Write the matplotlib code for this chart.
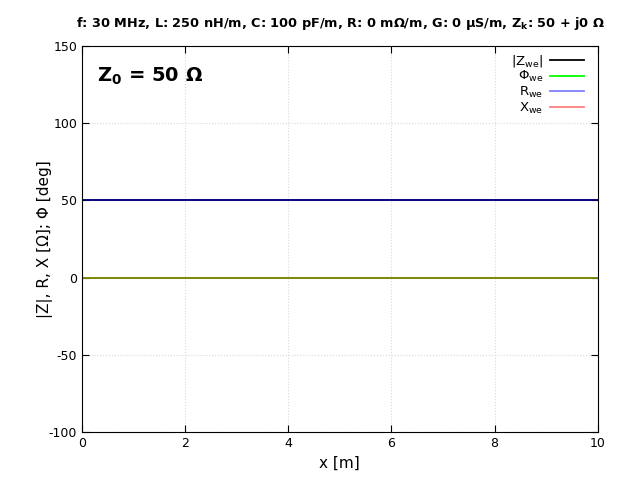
import matplotlib
matplotlib.use("Agg")
import matplotlib.pyplot as plt

x = [0, 10]
z_abs = [50, 50]
phi = [0, 0]
r_vals = [50, 50]
x_vals = [0, 0]
title = "f: 30 MHz, L: 250 nH/m, C: 100 pF/m, R: 0 mΩ/m, G: 0 µS/m, Z$_\\mathbf{k}$: 50 + j0 Ω"

plt.rcParams['mathtext.fontset'] = 'dejavusans'
plt.rcParams['axes.unicode_minus'] = False
fig = plt.figure(figsize=(6.4, 4.8), dpi=100)
ax = fig.add_axes([0.128, 0.1, 0.806, 0.804])

ax.plot(x, z_abs, color='black', lw=1.3, label=r'$|\mathrm{Z}_{\mathrm{we}}|$')
ax.plot(x, phi, color='#00ff00', lw=1.3, label=r'$\Phi_{\mathrm{we}}$')
ax.plot(x, r_vals, color='blue', alpha=0.5, lw=1.3, label=r'$\mathrm{R}_{\mathrm{we}}$')
ax.plot(x, x_vals, color='red', alpha=0.5, lw=1.3, label=r'$\mathrm{X}_{\mathrm{we}}$')

ax.set_xlim(0, 10)
ax.set_ylim(-100, 150)
ax.set_xticks([0, 2, 4, 6, 8, 10])
ax.set_yticks([-100, -50, 0, 50, 100, 150])
ax.grid(True, color='#d8d8d8', linestyle=':', lw=0.8)
ax.tick_params(direction='in', top=True, right=True, labelsize=9, length=5)
ax.set_xlabel('x [m]', fontsize=11)
ax.set_ylabel('|Z|, R, X [Ω]; Φ [deg]', fontsize=11, labelpad=-3)
fig.text(0.532, 0.952, title, ha='center', va='center', fontsize=9.3, fontweight='bold')
ax.text(0.03, 0.95, r'$\mathbf{Z_0}$ = 50 Ω', transform=ax.transAxes,
        fontsize=14, fontweight='bold', va='top', ha='left')
leg = ax.legend(loc='upper right', frameon=False, markerfirst=False, fontsize=9.5,
                handlelength=2.6, handletextpad=0.5, labelspacing=0.05,
                borderaxespad=0.1, bbox_to_anchor=(0.986, 1.0))
for h in leg.get_lines():
    h.set_alpha(1)
leg.get_lines()[2].set_color('#8080ff')
leg.get_lines()[3].set_color('#ff8080')
fig.savefig('out.png', dpi=100)
